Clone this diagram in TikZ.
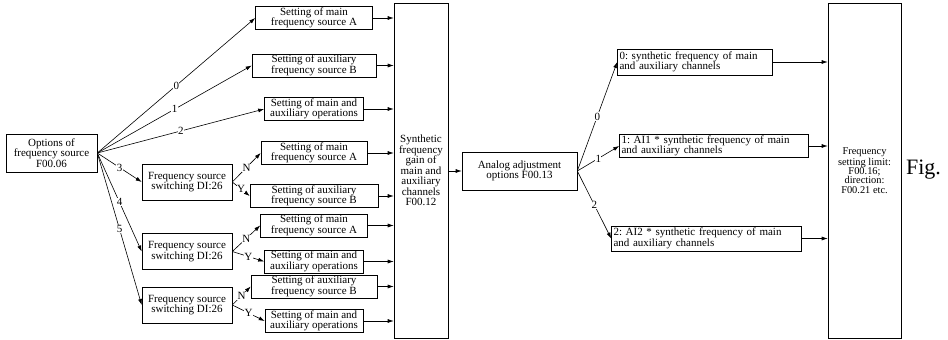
\documentclass[tikz,border=0pt]{standalone}
\usepackage{fontspec}
\setmainfont{Liberation Serif}
\usetikzlibrary{arrows.meta,positioning,calc}
\frenchspacing

\begin{document}
\begin{tikzpicture}[x=1pt, y=-1pt,
    box/.style={draw, line width=0.6pt, inner sep=1pt, align=center,
        font=\fontsize{11}{10.5}\selectfont},
    lbox/.style={box, align=left, inner xsep=2pt},
    arr/.style={line width=0.6pt, -{Latex[length=6pt,width=4pt]}},
    lab/.style={fill=white, inner sep=0.4pt, font=\fontsize{11}{10.5}\selectfont}]
    \useasboundingbox (0,0) rectangle (948,340);

    % Source option and switches
    \node[box, minimum width=91pt, minimum height=38pt] (opt) at (51.5,153)
        {Options of\\frequency source\\F00.06};
    \foreach \n/\y in {s1/182, s2/251.5, s3/305}
        \node[box, minimum width=90pt, minimum height=36pt] (\n) at (187,\y)
            {Frequency source\\switching DI:26};

    % Setting boxes
    \foreach \n/\y/\w/\h/\t in {
        a1/18/117/22/{Setting of main\\frequency source A},
        b1/65.5/124/23/{Setting of auxiliary\\frequency source B},
        o1/109/99/22/{Setting of main and\\auxiliary operations},
        a2/153/106/22/{Setting of main\\frequency source A},
        b2/196/128/22/{Setting of auxiliary\\frequency source B},
        a3/225.5/107/23/{Setting of main\\frequency source A},
        o2/261.5/99/19/{Setting of main and\\auxiliary operations},
        b3/286.5/126/21/{Setting of auxiliary\\frequency source B},
        o3/321/98/22/{Setting of main and\\auxiliary operations}}
        \node[box, minimum width=\w pt, minimum height=\h pt] (\n) at (314,\y) {\t};

    % Gain, analog and limit blocks
    \node[box, minimum width=54pt, minimum height=335pt] (sum) at (421,170.5)
        {Synthetic\\frequency\\gain of\\main and\\auxiliary\\channels\\F00.12};
    \node[box, minimum width=115pt, minimum height=38pt] (ana) at (519.5,171)
        {Analog adjustment\\options F00.13};
    \node[lbox, text width=151pt, minimum height=26pt] (r0) at (695,62)
        {0: synthetic frequency of main\\and auxiliary channels};
    \node[lbox, text width=185pt, minimum height=22pt] (r1) at (714,146)
        {1: AI1 * synthetic frequency of main\\and auxiliary channels};
    \node[lbox, text width=186pt, minimum height=25pt] (r2) at (706.5,238.5)
        {2: AI2 * synthetic frequency of main\\and auxiliary channels};
    \node[box, minimum width=73pt, minimum height=335pt,
        font=\fontsize{10.4}{9.3}\selectfont] (lim) at (864.5,170.5)
        {Frequency\\setting limit:\\F00.16;\\direction:\\F00.21 etc.};
    \node[font=\fontsize{22}{24}\selectfont, inner sep=0pt] (fig) at (923.5,170) {Fig.};

    % Option branches
    \foreach \t/\l in {a1/0, b1/1, o1/2, s1/3, s2/4, s3/5}
        \draw[arr] (opt.east) -- node[lab] {\l} (\t.west);
    \foreach \s/\p/\q in {s1/a2/b2, s2/a3/o2, s3/b3/o3} {
        \draw[arr] (\s.east) -- node[lab] {N} (\p.west);
        \draw[arr] (\s.east) -- node[lab] {Y} (\q.west);
    }
    \foreach \t in {a1,b1,o1,a2,b2,a3,o2,b3,o3}
        \draw[arr] (\t.east) -- (\t.east -| sum.west);

    % Analog branches
    \draw[arr] (sum.east |- ana.west) -- (ana.west);
    \foreach \t/\l in {r0/0, r1/1, r2/2} {
        \draw[arr] (ana.east) -- node[lab] {\l} (\t.west);
        \draw[arr] (\t.east) -- (\t.east -| lim.west);
    }
\end{tikzpicture}
\end{document}
